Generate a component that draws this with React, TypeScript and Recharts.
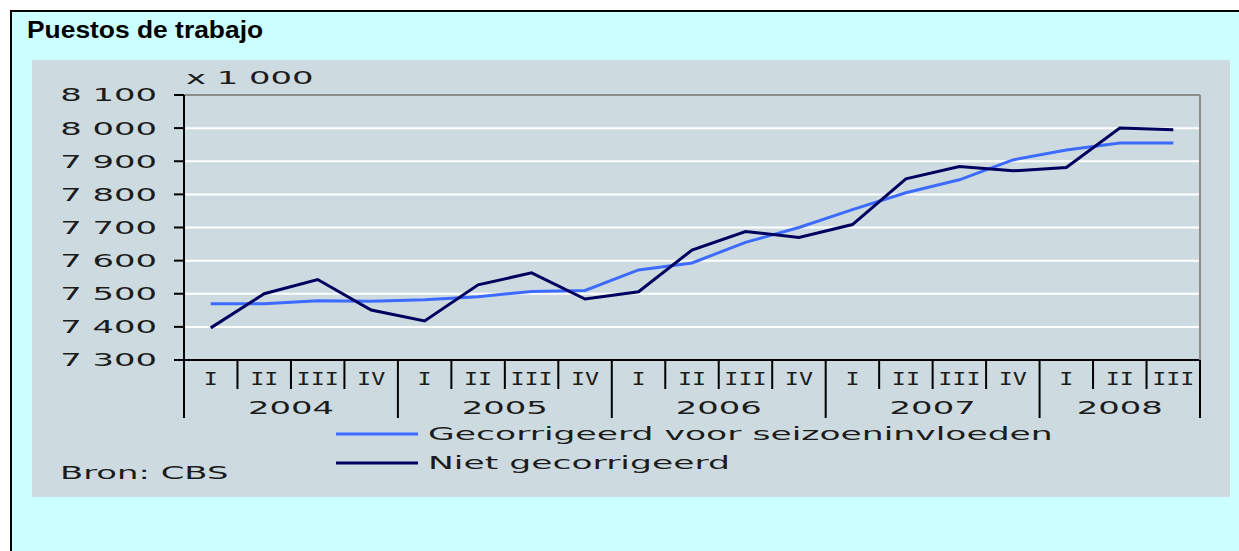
import { LineChart, Line, XAxis, YAxis, CartesianGrid, Legend } from 'recharts'

const quarterLabels = ['I', 'II', 'III', 'IV', 'I', 'II', 'III', 'IV', 'I', 'II', 'III', 'IV', 'I', 'II', 'III', 'IV', 'I', 'II', 'III']
const yearLabels = ['2004', '2004', '2004', '2004', '2005', '2005', '2005', '2005', '2006', '2006', '2006', '2006', '2007', '2007', '2007', '2007', '2008', '2008', '2008']
// x 1 000 jobs
const adjusted = [7470, 7470, 7479, 7477, 7482, 7491, 7507, 7510, 7572, 7593, 7655, 7700, 7754, 7805, 7844, 7904, 7934, 7955, 7955]
const notAdjusted = [7397, 7500, 7543, 7451, 7418, 7527, 7563, 7484, 7506, 7632, 7688, 7670, 7709, 7847, 7884, 7871, 7881, 8000, 7995]
const yTicks = [7300, 7400, 7500, 7600, 7700, 7800, 7900, 8000, 8100]

const data = quarterLabels.map((q, i) => ({
    q,
    year: yearLabels[i],
    adjusted: adjusted[i],
    notAdjusted: notAdjusted[i],
}))

const TEXT = '#1c1c1c'
const SANS = '"DejaVu Sans", Verdana, sans-serif'
const STRETCH = 1.88
// plot area runs from x=184 to x=1200, each quarter gets its own slot
const PLOT_W = 1016
const HALF = PLOT_W / quarterLabels.length / 2

const formatThousands = (v: number) => `${Math.floor(v / 1000)} ${String(v % 1000).padStart(3, '0')}`

const YTick = (props: any) => {
    const { x, y, payload } = props
    return (
        <text
            transform={`translate(${x},${y}) scale(${STRETCH},1)`}
            textAnchor="end"
            dy="0.36em"
            fontFamily={SANS}
            fontSize={18}
            fill={TEXT}
        >
            {formatThousands(payload.value)}
        </text>
    )
}

const QuarterTick = (props: any) => {
    const { x, y, payload, index } = props
    const left = x - HALF
    const yearStart = quarterLabels[index] === 'I'
    const last = index === quarterLabels.length - 1
    const inYear = yearLabels.filter((yr) => yr === yearLabels[index]).length
    return (
        <g>
            <line x1={left} x2={left} y1={y} y2={y + (yearStart ? 58 : 29)} stroke="#000" strokeWidth={2} />
            {last && <line x1={x + HALF} x2={x + HALF} y1={y} y2={y + 58} stroke="#000" strokeWidth={2} />}
            <text
                transform={`translate(${x},${y + 18.5}) scale(1.3,1)`}
                textAnchor="middle"
                dy="0.36em"
                fontFamily='"DejaVu Sans Mono", monospace'
                fontSize={18}
                fill={TEXT}
            >
                {payload.value}
            </text>
            {yearStart && (
                <text
                    transform={`translate(${left + inYear * HALF},${y + 47.5}) scale(${STRETCH},1)`}
                    textAnchor="middle"
                    dy="0.36em"
                    fontFamily={SANS}
                    fontSize={18}
                    fill={TEXT}
                >
                    {yearLabels[index]}
                </text>
            )}
        </g>
    )
}

const renderLegend = (props: any) => {
    const { payload } = props
    return (
        <svg width={800} height={70}>
            {payload.map((entry: any, i: number) => (
                <g key={`legend-${i}`} transform={`translate(0,${14 + i * 29})`}>
                    <line x1={6} x2={88} y1={0} y2={0} stroke={entry.color} strokeWidth={3} />
                    <text
                        transform="translate(98,0) scale(1.92,1)"
                        dy="0.36em"
                        fontFamily={SANS}
                        fontSize={18}
                        fill={TEXT}
                    >
                        {entry.value}
                    </text>
                </g>
            ))}
        </svg>
    )
}

export default function App() {
    return (
        <div style={{ position: 'absolute', left: 0, top: 0, width: 1239, height: 551, overflow: 'hidden', background: '#fff' }}>
            <div
                style={{
                    position: 'absolute',
                    left: 10,
                    top: 10,
                    width: 1229,
                    height: 541,
                    boxSizing: 'border-box',
                    borderLeft: '2px solid #000',
                    borderTop: '2px solid #000',
                    background: '#ccffff',
                }}
            />
            <div style={{ position: 'absolute', left: 32, top: 60, width: 1198, height: 437, background: '#cddbe0' }} />
            <svg width={1239} height={551} style={{ position: 'absolute', left: 0, top: 0 }}>
                <text
                    transform="translate(27,38) scale(1.1,1)"
                    fontFamily='"Liberation Sans", Arial, sans-serif'
                    fontWeight="bold"
                    fontSize={24}
                    fill="#000"
                >
                    Puestos de trabajo
                </text>
                <text transform={`translate(186,78) scale(${STRETCH},1)`} dy="0.36em" fontFamily={SANS} fontSize={18} fill={TEXT}>
                    x 1 000
                </text>
                <text transform={`translate(60,473) scale(${STRETCH},1)`} dy="0.36em" fontFamily={SANS} fontSize={18} fill={TEXT}>
                    Bron: CBS
                </text>
            </svg>
            <div style={{ position: 'absolute', left: 0, top: 0 }}>
                <LineChart width={1239} height={551} data={data} margin={{ top: 94, right: 38, bottom: 131, left: 34 }}>
                    <CartesianGrid vertical={false} stroke="#ffffff" strokeWidth={2} />
                    <XAxis
                        dataKey="q"
                        interval={0}
                        height={60}
                        padding={{ left: HALF, right: HALF }}
                        tickSize={0}
                        tickMargin={0}
                        tickLine={false}
                        axisLine={{ stroke: '#000', strokeWidth: 2 }}
                        tick={<QuarterTick />}
                    />
                    <XAxis
                        xAxisId="top"
                        dataKey="q"
                        orientation="top"
                        height={1}
                        tick={false}
                        tickLine={false}
                        axisLine={{ stroke: '#8c8c8c', strokeWidth: 2 }}
                    />
                    <YAxis
                        domain={[7300, 8100]}
                        ticks={yTicks}
                        interval={0}
                        width={150}
                        tickSize={10}
                        tickMargin={17}
                        tickLine={{ stroke: '#000', strokeWidth: 2 }}
                        axisLine={{ stroke: '#000', strokeWidth: 2 }}
                        tick={<YTick />}
                    />
                    <YAxis
                        yAxisId="right"
                        orientation="right"
                        domain={[7300, 8100]}
                        width={1}
                        tick={false}
                        tickLine={false}
                        axisLine={{ stroke: '#8c8c8c', strokeWidth: 2 }}
                    />
                    <Legend
                        layout="horizontal"
                        align="center"
                        verticalAlign="middle"
                        content={renderLegend}
                        wrapperStyle={{ left: 330, top: 420, width: 800, height: 70 }}
                    />
                    <Line
                        type="linear"
                        dataKey="adjusted"
                        name="Gecorrigeerd voor seizoeninvloeden"
                        stroke="#3d6bff"
                        strokeWidth={3}
                        dot={false}
                        isAnimationActive={false}
                    />
                    <Line
                        type="linear"
                        dataKey="notAdjusted"
                        name="Niet gecorrigeerd"
                        stroke="#00005e"
                        strokeWidth={3}
                        dot={false}
                        isAnimationActive={false}
                    />
                </LineChart>
            </div>
        </div>
    )
}
